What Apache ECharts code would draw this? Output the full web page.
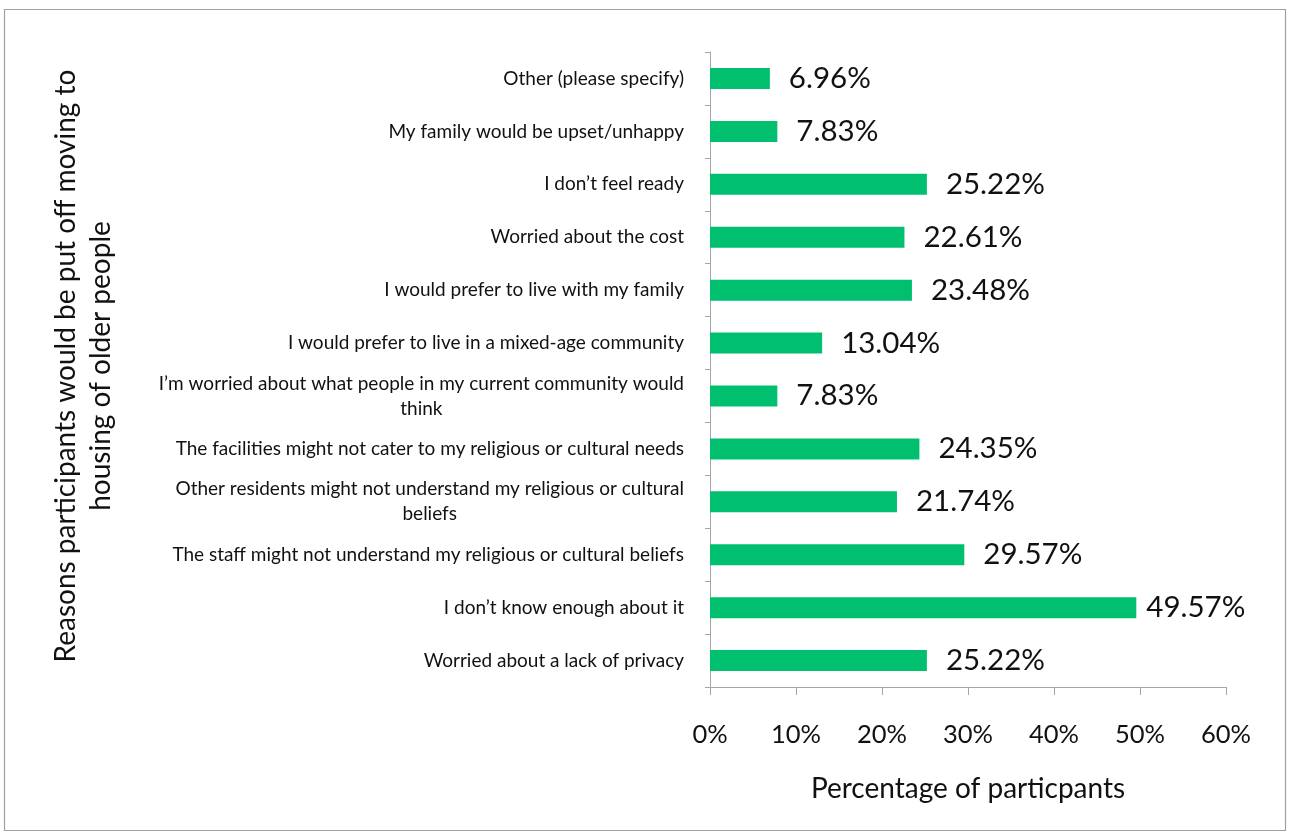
<!DOCTYPE html>
<html>
<head>
<meta charset="utf-8">
<script src="https://cdn.jsdelivr.net/npm/echarts@6/dist/echarts.min.js"></script>
<style>
  html, body { margin: 0; padding: 0; background: #fff; }
  #chart { width: 1290px; height: 835px; }
</style>
</head>
<body>
<div id="chart"></div>
<script>
// Reasons listed top to bottom
const categories = [
  'Other (please specify)',
  'My family would be upset/unhappy',
  'I don\u2019t feel ready',
  'Worried about the cost',
  'I would prefer to live with my family',
  'I would prefer to live in a mixed-age community',
  'I\u2019m worried about what people in my current community would think',
  'The facilities might not cater to my religious or cultural needs',
  'Other residents might not understand my religious or cultural beliefs',
  'The staff might not understand my religious or cultural beliefs',
  'I don\u2019t know enough about it',
  'Worried about a lack of privacy'
];
// Percentage of participants for each reason
const percentages = [6.96, 7.83, 25.22, 22.61, 23.48, 13.04, 7.83, 24.35, 21.74, 29.57, 49.57, 25.22];
const xTicks = { min: 0, max: 60, step: 10 };
const yTitle = 'Reasons participants would be put off moving to\nhousing of older people';
const xTitle = 'Percentage of particpants';

const FONT = 'Lato';
const labelSize = 19;
const wrapWidth = 540;

// word-wrap a category label to a maximum pixel width
const measureCtx = document.createElement('canvas').getContext('2d');
measureCtx.font = labelSize + 'px ' + FONT;
function wrap(text) {
  const words = text.split(' ');
  const lines = [];
  let cur = '';
  words.forEach(w => {
    const test = cur ? cur + ' ' + w : w;
    if (cur && measureCtx.measureText(test).width > wrapWidth) {
      lines.push(cur);
      cur = w;
    } else {
      cur = test;
    }
  });
  if (cur) lines.push(cur);
  return lines;
}

const chart = echarts.init(document.getElementById('chart'));

// the longest bar keeps its label closer so it stays inside the plot
const seriesData = percentages.map(v => ({
  value: v,
  label: { distance: v > 45 ? 10 : 19 }
}));

function render() {
  measureCtx.font = labelSize + 'px ' + FONT;
  chart.setOption({
    backgroundColor: '#ffffff',
    animation: false,
    grid: { left: 710, right: 64, top: 52, bottom: 148, containLabel: false },
    xAxis: {
      type: 'value',
      min: xTicks.min,
      max: xTicks.max,
      interval: xTicks.step,
      axisLine: { show: true, lineStyle: { color: '#a6a6a6', width: 1 } },
      axisTick: { show: true, length: 8, lineStyle: { color: '#a6a6a6' } },
      splitLine: { show: false },
      axisLabel: {
        formatter: '{value}%',
        fontFamily: FONT,
        fontSize: 25.5,
        color: '#111',
        margin: 35
      },
      name: xTitle,
      nameLocation: 'middle',
      nameGap: 88,
      nameTextStyle: { fontFamily: FONT, fontSize: 28, color: '#111' }
    },
    yAxis: {
      type: 'category',
      inverse: true,
      data: categories,
      axisLine: { show: true, lineStyle: { color: '#a6a6a6', width: 1 } },
      axisTick: { show: true, length: 5, lineStyle: { color: '#a6a6a6' } },
      splitLine: { show: false },
      axisLabel: {
        interval: 0,
        margin: 26,
        align: 'right',
        color: '#111',
        fontFamily: FONT,
        fontSize: labelSize,
        lineHeight: 25,
        formatter: v => wrap(v).map(l => '{c|' + l + '}').join('\n'),
        rich: {
          c: { align: 'center', fontFamily: FONT, fontSize: labelSize, color: '#111', lineHeight: 25 }
        }
      }
    },
    series: [{
      type: 'bar',
      data: seriesData,
      barWidth: 21,
      itemStyle: { color: '#00bf6f' },
      label: {
        show: true,
        position: 'right',
        formatter: p => p.value.toFixed(2) + '%',
        fontFamily: FONT,
        fontSize: 29.5,
        color: '#111'
      }
    }],
    graphic: [
      {
        type: 'rect',
        shape: { x: 4.5, y: 9.5, width: 1281, height: 821 },
        style: { fill: 'none', stroke: '#a0a0a0', lineWidth: 1.2 },
        silent: true
      },
      {
        type: 'text',
        x: 83,
        y: 366,
        rotation: Math.PI / 2,
        style: {
          text: yTitle,
          fontFamily: FONT,
          fontSize: 28,
          lineHeight: 35,
          fill: '#111',
          align: 'center',
          verticalAlign: 'middle'
        }
      }
    ]
  });
}

if (document.fonts && document.fonts.load) {
  document.fonts.load(labelSize + 'px ' + FONT).then(render, render);
} else {
  render();
}
</script>
</body>
</html>
